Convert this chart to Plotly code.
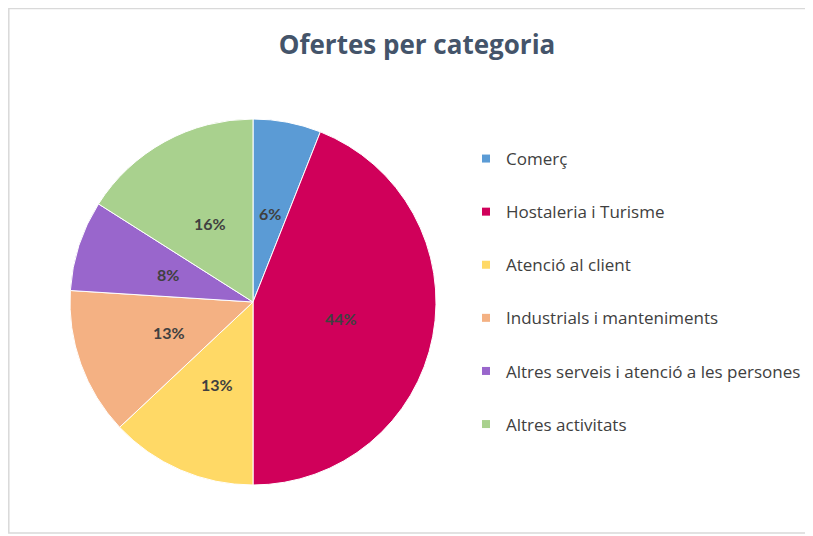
import math
import plotly.graph_objects as go

categories = ["Comerç", "Hostaleria i Turisme", "Atenció al client",
              "Industrials i manteniments", "Altres serveis i atenció a les persones",
              "Altres activitats"]
values = [6, 44, 13, 13, 8, 16]
colors = ["#5B9BD5", "#D0005A", "#FFD966", "#F4B183", "#9966CC", "#A9D18E"]

# the page body has an 8px margin; work in screen pixels and convert
OFF = 8
FW, FH = 805, 528


def px(x):
    return (x - OFF) / FW


def py(y):
    return 1 - (y - OFF) / FH


CX, CY, R = 253, 302, 183

fig = go.Figure()
fig.add_trace(go.Pie(
    labels=categories, values=values, sort=False, direction="clockwise", rotation=0,
    marker=dict(colors=colors, line=dict(color="white", width=1)),
    textinfo="none", showlegend=False, hoverinfo="label+percent",
    domain=dict(x=[px(CX - R), px(CX + R)], y=[py(CY + R), py(CY - R)]),
))

# percentage labels placed at about half the radius, as in the reference
total = sum(values)
cum = 0
annotations = []
for v in values:
    theta = 2 * math.pi * (cum + v / 2) / total
    cum += v
    lx = CX + 0.49 * R * math.sin(theta)
    ly = CY - 0.49 * R * math.cos(theta)
    annotations.append(dict(
        x=px(lx), y=py(ly), xref="paper", yref="paper", showarrow=False,
        text="<b>%d%%</b>" % round(100 * v / total),
        font=dict(family="Lato", size=16, color="#404040"),
        xanchor="center", yanchor="middle"))

for name, col in zip(categories, colors):
    fig.add_trace(go.Scatter(
        x=[None], y=[None], mode="markers", name=name, legendgroup=name,
        marker=dict(symbol="square", size=8, color=col),
        showlegend=True,
    ))

fig.update_layout(
    width=FW, height=FH,
    margin=dict(l=0, r=0, t=0, b=0),
    paper_bgcolor="white", plot_bgcolor="white",
    title=dict(text="<b>Ofertes per categoria</b>", x=px(417), xanchor="center",
               y=py(45), yanchor="middle",
               font=dict(family="Open Sans", size=26, color="#44546A")),
    xaxis=dict(visible=False), yaxis=dict(visible=False),
    legend=dict(x=px(466), y=py(141), xanchor="left", yanchor="top",
                font=dict(family="Open Sans", size=17, color="#404040"),
                tracegroupgap=28, itemwidth=30, bgcolor="rgba(0,0,0,0)"),
    annotations=annotations,
    shapes=[dict(type="rect", xref="paper", yref="paper",
                 x0=0.001, x1=1.02, y0=py(533), y1=0.999,
                 line=dict(color="#D9D9D9", width=1.5), layer="below")],
)

fig.write_html("out.html")
